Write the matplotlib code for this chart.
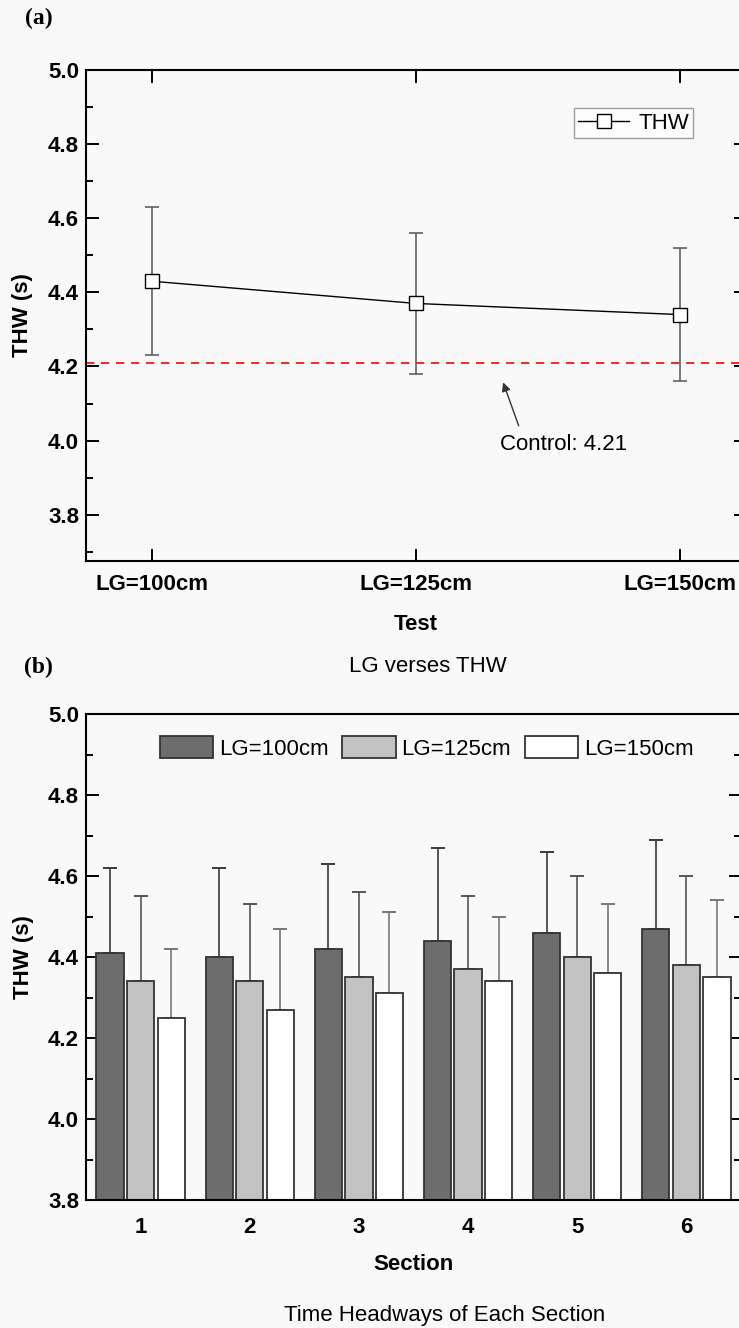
import matplotlib
matplotlib.use('Agg')
import matplotlib.pyplot as plt
from matplotlib.ticker import MultipleLocator, FormatStrFormatter
from matplotlib.font_manager import FontProperties
import numpy as np

# panel (a): LG verses THW
tests = ['LG=100cm', 'LG=125cm', 'LG=150cm']
thw_mean = [4.43, 4.37, 4.34]
thw_err = [0.20, 0.19, 0.18]
control = 4.21

# panel (b): time headways of each section
sections = ['1', '2', '3', '4', '5', '6']
lg100 = [4.41, 4.40, 4.42, 4.44, 4.46, 4.47]
lg125 = [4.34, 4.34, 4.35, 4.37, 4.40, 4.38]
lg150 = [4.25, 4.27, 4.31, 4.34, 4.36, 4.35]
lg100_top = [4.62, 4.62, 4.63, 4.67, 4.66, 4.69]
lg125_top = [4.55, 4.53, 4.56, 4.55, 4.60, 4.60]
lg150_top = [4.42, 4.47, 4.51, 4.50, 4.53, 4.54]

W, H = 739, 1328
bg = '#f9f9f9'
fig = plt.figure(figsize=(W / 100, H / 100), dpi=100, facecolor=bg)

FS = 16
bold = FontProperties(family='Liberation Sans', weight='bold', size=FS)
plain = FontProperties(family='Liberation Sans', size=FS)


def px(x, y):
    return x / W, 1 - y / H


def style_axes(ax):
    ax.set_facecolor(bg)
    for s in ax.spines.values():
        s.set_linewidth(1.5)
    ax.tick_params(which='both', direction='in', top=True, right=True, width=1.4)
    ax.tick_params(which='major', length=9)
    ax.tick_params(which='minor', length=5)
    ax.yaxis.set_major_locator(MultipleLocator(0.2))
    ax.yaxis.set_minor_locator(MultipleLocator(0.1))
    ax.yaxis.set_major_formatter(FormatStrFormatter('%.1f'))
    for lab in ax.get_xticklabels() + ax.get_yticklabels():
        lab.set_fontproperties(bold)


# ---- (a) ----
ax1 = fig.add_axes([86 / W, 1 - 561 / H, 660 / W, 491 / H])
x = np.arange(1, len(tests) + 1)
ax1.axhline(control, color='red', lw=1.2, dashes=(5, 4), zorder=1)
ax1.errorbar(x, thw_mean, yerr=thw_err, fmt='none', ecolor='#555555',
             elinewidth=1.1, capsize=5, capthick=1.1, zorder=2)
ax1.plot(x, thw_mean, '-', color='black', lw=1.0, marker='s', ms=9.5,
         mfc='white', mec='black', mew=1.0, label='THW', zorder=3)
ax1.set_xlim(0.75, 3.25)
ax1.set_ylim(3.675, 5.0)
ax1.set_xticks(x)
ax1.set_xticklabels(tests)
style_axes(ax1)
ax1.tick_params(axis='x', pad=9)
ax1.tick_params(axis='y', pad=5)
ax1.set_xlabel('Test', fontproperties=bold)
ax1.xaxis.set_label_coords(0.5, -0.108)
ax1.set_ylabel('THW (s)', fontproperties=bold)
ax1.yaxis.set_label_coords(-0.08, 0.5)
leg = ax1.legend(loc='center right', bbox_to_anchor=(0.92, 0.892), frameon=True,
                 fancybox=False, edgecolor='#888888', handlelength=2.3,
                 prop=plain, borderpad=0.2, handletextpad=0.4, borderaxespad=0)
leg.get_frame().set_facecolor('white')
leg.get_frame().set_linewidth(1.0)
ax1.annotate('', xy=(2.33, 4.157), xytext=(2.389, 4.04),
             arrowprops=dict(arrowstyle='-|>', color='#333333', lw=1.0,
                             mutation_scale=13, shrinkA=0, shrinkB=0))
ax1.text(2.56, 3.99, 'Control: 4.21', ha='center', va='center', fontproperties=plain)

# ---- (b) ----
ax2 = fig.add_axes([86 / W, 1 - 1200 / H, 655 / W, 486 / H])
xs = np.arange(1, len(sections) + 1)
bw = 0.25
off = 0.28
series = [(lg100, lg100_top, '#6d6d6d', '#3a3a3a', 'LG=100cm', -off),
          (lg125, lg125_top, '#c2c2c2', '#555555', 'LG=125cm', 0.0),
          (lg150, lg150_top, '#ffffff', '#777777', 'LG=150cm', off)]
for vals, tops, fc, ec, lab, o in series:
    err = np.array(tops) - np.array(vals)
    ax2.bar(xs + o, np.array(vals) - 3.8, bottom=3.8, width=bw, color=fc,
            edgecolor='#333333', linewidth=1.3, label=lab, zorder=2)
    ax2.errorbar(xs + o, vals, yerr=[np.zeros(len(err)), err], fmt='none',
                 ecolor=ec, elinewidth=1.2, capsize=5, capthick=1.4, zorder=1)
ax2.set_xlim(0.5, 6.5)
ax2.set_ylim(3.8, 5.0)
ax2.set_xticks(xs)
ax2.set_xticklabels(sections)
style_axes(ax2)
ax2.tick_params(axis='x', length=0, pad=12)
ax2.tick_params(axis='y', pad=5)
ax2.set_xlabel('Section', fontproperties=bold)
ax2.xaxis.set_label_coords(0.5, -0.112)
ax2.set_ylabel('THW (s)', fontproperties=bold)
ax2.yaxis.set_label_coords(-0.08, 0.5)
ax2.legend(loc='center left', bbox_to_anchor=(0.096, 0.93), ncol=3, frameon=False,
           handlelength=2.4, handleheight=1.15, handletextpad=0.27,
           columnspacing=0.6, borderpad=0, prop=plain)

# labels and captions
serif = FontProperties(family='Liberation Serif', weight='bold', size=17)
fig.text(*px(25, 18), '(a)', ha='left', va='center', fontproperties=serif)
fig.text(*px(24, 667), '(b)', ha='left', va='center', fontproperties=serif)
fig.text(*px(428, 667), 'LG verses THW', ha='center', va='center', fontproperties=plain)
fig.text(*px(445, 1315), 'Time Headways of Each Section', ha='center',
         va='center', fontproperties=plain)

fig.savefig('out.png', dpi=100, facecolor=bg)
